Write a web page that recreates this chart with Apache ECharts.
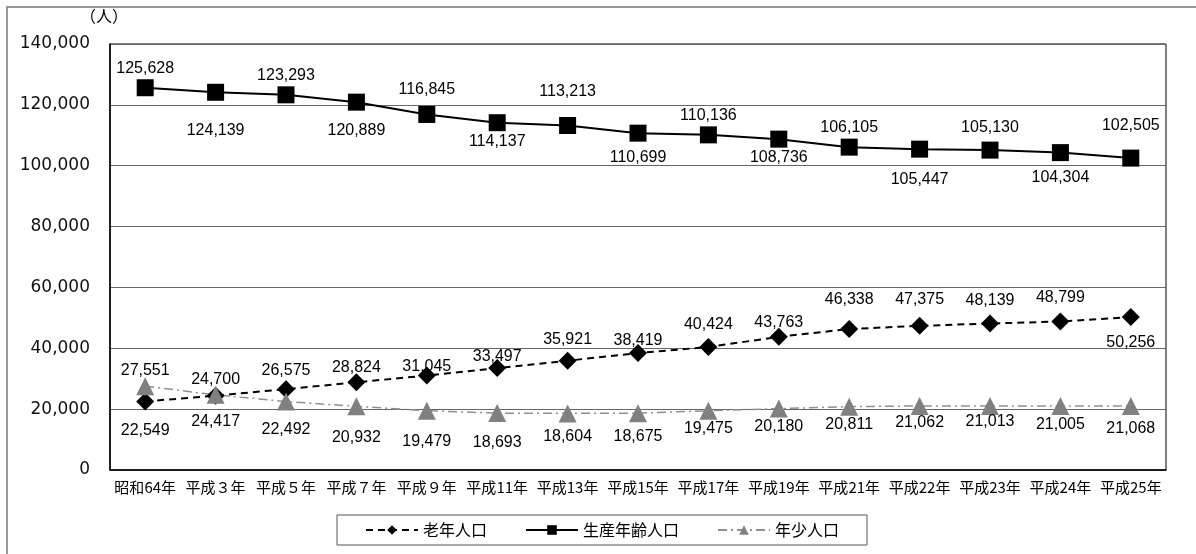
<!DOCTYPE html>
<html>
<head>
<meta charset="utf-8">
<script src="https://cdn.jsdelivr.net/npm/echarts@6/dist/echarts.min.js"></script>
<style>
  html, body { margin: 0; padding: 0; background: #fff; }
  #main { width: 1196px; height: 554px; }
</style>
</head>
<body>
<div id="main"></div>
<script>
var years = ['昭和64年', '平成３年', '平成５年', '平成７年', '平成９年', '平成11年', '平成13年', '平成15年',
    '平成17年', '平成19年', '平成21年', '平成22年', '平成23年', '平成24年', '平成25年'];
var elderly = [22549, 24417, 26575, 28824, 31045, 33497, 35921, 38419, 40424, 43763, 46338, 47375, 48139, 48799, 50256];
var working = [125628, 124139, 123293, 120889, 116845, 114137, 113213, 110699, 110136, 108736, 106105, 105447, 105130, 104304, 102505];
var youth = [27551, 24700, 22492, 20932, 19479, 18693, 18604, 18675, 19475, 20180, 20811, 21062, 21013, 21005, 21068];
var yTicks = [0, 20000, 40000, 60000, 80000, 100000, 120000, 140000];

// ラベルの上下位置（点からのずれ px）
var elderlyDy = [29, 26, -19, -15, -9, -11, -21, -13, -22, -14, -29, -26, -23, -24, 26];
var workingDy = [-19, 38, -19, 28, -25, 19, -34, 24, -19, 18, -20, 30, -23, 25, -32];
var youthDy = [-16, -15, 28, 31, 31, 29, 23, 23, 18, 18, 18, 17, 16, 19, 23];

function fmt(v) {
    return v.toString().replace(/\B(?=(\d{3})+(?!\d))/g, ',');
}

function withLabels(values, dy) {
    var out = [];
    for (var i = 0; i < values.length; i++) {
        out.push({ value: values[i], label: { offset: [0, dy[i]] } });
    }
    return out;
}

var labelBase = {
    show: true,
    position: 'inside',
    color: '#000',
    fontFamily: 'Liberation Sans',
    fontSize: 16,
    formatter: function (p) { return fmt(p.value); }
};

var myChart = echarts.init(document.getElementById('main'));
var option = {
    animation: false,
    backgroundColor: '#fff',
    graphic: [{
        type: 'rect',
        shape: { x: 7, y: 7, width: 1200, height: 560 },
        style: { fill: 'none', stroke: '#777', lineWidth: 1.5 },
        silent: true
    }],
    grid: {
        left: 110, right: 30, top: 44, bottom: 84,
        show: true, borderColor: '#000', borderWidth: 1
    },
    legend: {
        left: 337, top: 515,
        padding: [7, 28],
        itemGap: 38,
        itemWidth: 52,
        itemHeight: 12,
        borderColor: '#555',
        borderWidth: 1,
        textStyle: { fontFamily: 'Noto Sans CJK JP', fontSize: 16, color: '#000' },
        data: ['老年人口', '生産年齢人口', '年少人口']
    },
    xAxis: {
        type: 'category',
        data: years,
        boundaryGap: true,
        axisLine: { lineStyle: { color: '#000', width: 1.5 } },
        axisTick: { inside: true, length: 5, lineStyle: { color: '#000' } },
        axisLabel: { fontFamily: 'Noto Sans CJK JP', fontSize: 15, color: '#000', margin: 10, interval: 0 }
    },
    yAxis: {
        type: 'value',
        min: yTicks[0],
        max: yTicks[yTicks.length - 1],
        interval: 20000,
        name: '（人）',
        nameLocation: 'end',
        nameGap: 20,
        nameTextStyle: { fontFamily: 'Noto Sans CJK JP', fontSize: 16, color: '#000', padding: [0, 12, 0, 0] },
        axisLine: { show: true, lineStyle: { color: '#000', width: 1.5 } },
        axisTick: { show: false },
        splitLine: { lineStyle: { color: '#666', width: 1 } },
        axisLabel: {
            fontFamily: 'DejaVu Sans', fontSize: 17, color: '#111', margin: 20,
            formatter: function (v) { return fmt(v); }
        }
    },
    series: [{
        name: '老年人口',
        type: 'line',
        data: withLabels(elderly, elderlyDy),
        symbol: 'diamond',
        symbolSize: 18,
        itemStyle: { color: '#000' },
        lineStyle: { color: '#000', width: 2, type: [7, 5] },
        label: labelBase
    }, {
        name: '生産年齢人口',
        type: 'line',
        data: withLabels(working, workingDy),
        symbol: 'rect',
        symbolSize: 17,
        itemStyle: { color: '#000' },
        lineStyle: { color: '#000', width: 2 },
        label: labelBase
    }, {
        name: '年少人口',
        type: 'line',
        data: withLabels(youth, youthDy),
        symbol: 'triangle',
        symbolSize: 18,
        itemStyle: { color: '#808080' },
        lineStyle: { color: '#909090', width: 1.5, type: [9, 4, 2, 4] },
        label: labelBase
    }]
};
myChart.setOption(option);
</script>
</body>
</html>
